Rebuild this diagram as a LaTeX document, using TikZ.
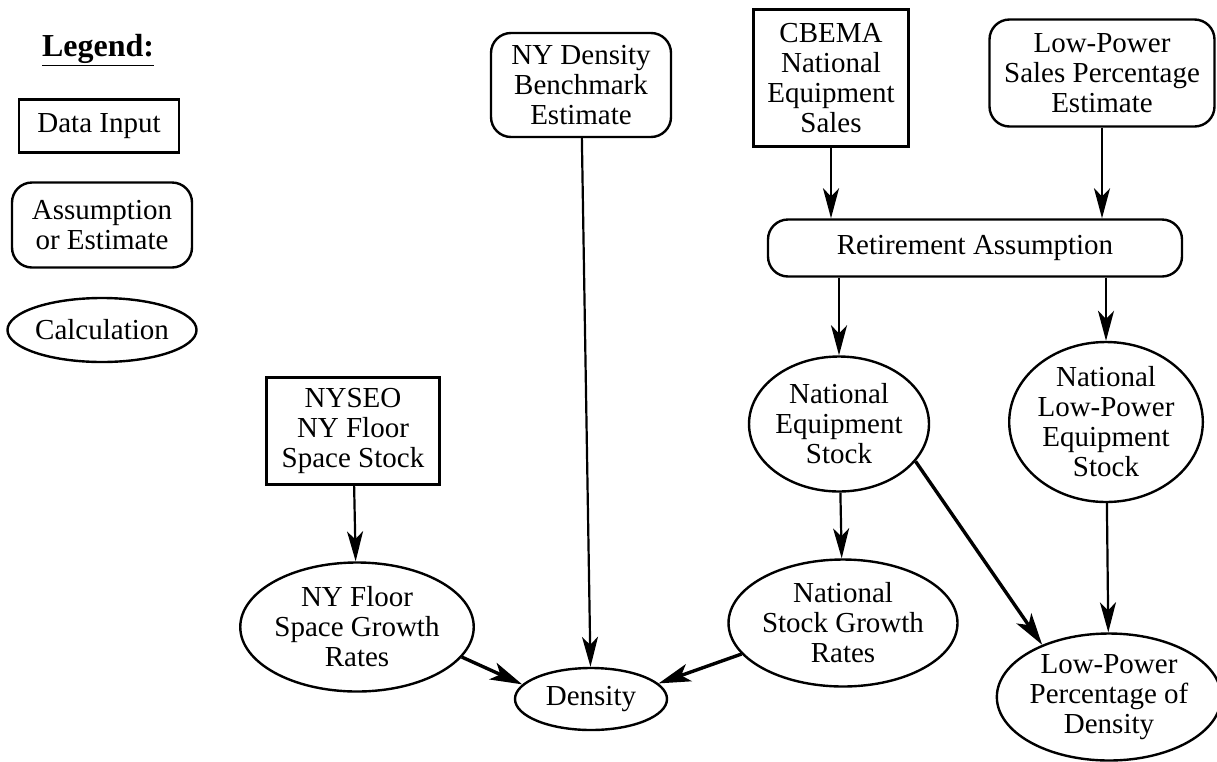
\documentclass[tikz,border=0pt]{standalone}
\usepackage{fontspec}
\setmainfont{Liberation Serif}
\usetikzlibrary{arrows.meta}
\usetikzlibrary{shapes.geometric}
\usetikzlibrary{calc}

\tikzset{
  txt/.style={font=\fontsize{29}{30}\selectfont, align=center, inner sep=0pt},
  datain/.style={txt, draw, line width=2.4pt, rectangle},
  estim/.style={txt, draw, line width=2.4pt, rectangle, rounded corners=20pt},
  calcnode/.style={txt, draw, line width=2.4pt, ellipse},
  flow/.style={line width=2.2pt, -{Stealth[length=30pt,width=16pt,inset=8pt]}},
  bigflow/.style={line width=3.4pt, -{Stealth[length=32pt,width=18pt,inset=8pt]}}
}

\begin{document}
\begin{tikzpicture}[x=1pt,y=-1pt]
      \useasboundingbox (0,0) rectangle (1217,761);

      % Legend
      \node[txt, font=\fontsize{32}{34}\selectfont\bfseries] (legend) at (98,50) {\underline{Legend:}};
      \node[datain, minimum width=160pt, minimum height=53pt] (ldata) at (99,126) {Data Input};
      \node[estim, minimum width=180pt, minimum height=85pt] (lassum) at (102,225) {Assumption\\or Estimate};
      \node[calcnode, minimum width=183pt, minimum height=64pt] (lcalc) at (102,330) {Calculation};

      % Inputs and estimates
      \node[estim, minimum width=180pt, minimum height=104pt] (bench) at (581,85) {NY Density\\Benchmark\\Estimate};
      \node[datain, minimum width=155pt, minimum height=137pt] (cbema) at (831,78) {CBEMA\\National\\Equipment\\Sales};
      \node[estim, minimum width=225pt, minimum height=107pt] (lpsales) at (1102,73) {Low-Power\\Sales Percentage\\Estimate};
      \node[estim, minimum width=414pt, minimum height=57pt] (retire) at (975,248) {Retirement Assumption};
      \node[datain, minimum width=173pt, minimum height=107pt] (nyseo) at (353,431) {NYSEO\\NY Floor\\Space Stock};

      % Calculations
      \node[calcnode, minimum width=168pt, minimum height=135pt] (nes) at (839,424) {National\\Equipment\\Stock};
      \node[calcnode, minimum width=182pt, minimum height=160pt] (nlpes) at (1106,422) {National\\Low-Power\\Equipment\\Stock};
      \node[calcnode, minimum width=200pt, minimum height=127pt] (nsg) at (843,623) {National\\Stock Growth\\Rates};
      \node[calcnode, minimum width=212pt, minimum height=127pt] (lppd) at (1109,697) {Low-Power\\Percentage of\\Density};
      \node[calcnode, minimum width=200pt, minimum height=129pt] (nyfsg) at (357,627) {NY Floor\\Space Growth\\Rates};
      \node[calcnode, minimum width=152pt, minimum height=62pt] (dens) at (591,699) {Density};

      % Arrows
      \draw[flow] (bench) -- (dens);
      \draw[flow] (cbema) -- (cbema |- retire.north);
      \draw[flow] (lpsales) -- (lpsales |- retire.north);
      \draw[flow] (retire.south -| nes) -- (nes);
      \draw[flow] (retire.south -| nlpes) -- (nlpes);
      \draw[flow] (nes) -- (nsg);
      \draw[flow] (nlpes) -- (lppd);
      \draw[flow] (nyseo) -- (nyfsg);
      \draw[bigflow] (nes.-26) -- (lppd.142);
      \draw[bigflow] (nyfsg.-16) -- (dens.168);
      \draw[bigflow] (nsg.-163) -- (dens.13);
\end{tikzpicture}
\end{document}
